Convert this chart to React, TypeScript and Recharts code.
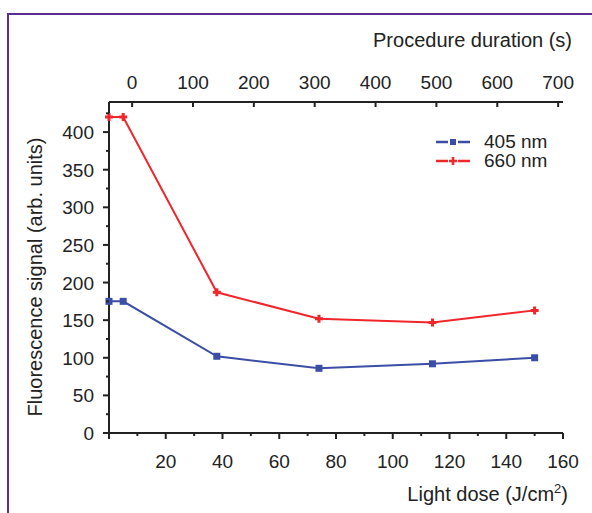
import React from "react";
import { LineChart, Line, XAxis, YAxis } from "recharts";

// light dose (J/cm2) at each measurement
const doses = [0, 5, 38, 74, 114, 150];
const signal405 = [175, 175, 102, 86, 92, 100];
const signal660 = [420, 420, 187, 152, 147, 163];

const doseTicks = [0, 10, 20, 30, 40, 50, 60, 70, 80, 90, 100, 110, 120, 130, 140, 150, 160];
const timeTicks = [0, 100, 200, 300, 400, 500, 600, 700];
const signalTicks = [0, 25, 50, 75, 100, 125, 150, 175, 200, 225, 250, 275, 300, 325, 350, 375, 400, 425];

// top axis: procedure duration at dose 0 and per J/cm2
const TIME_AT_ZERO_DOSE = -38;
const SECONDS_PER_DOSE = 4.6625;
const timeTickDoses = timeTicks.map((s) => (s - TIME_AT_ZERO_DOSE) / SECONDS_PER_DOSE);

const data = doses.map((d, i) => ({ dose: d, nm405: signal405[i], nm660: signal660[i] }));

const BLUE = "#3b4ea6";
const RED = "#f0262b";
const INK = "#222";
const FONT = "'Liberation Sans', Arial, sans-serif";
const TICK_FS = 19;
const TITLE_FS = 20;

const BottomTick = (props: any) => {
  const { x, y, payload } = props;
  const v = payload.value;
  const major = v % 20 === 0;
  return (
    <g>
      <line x1={x} x2={x} y1={y} y2={y + (major ? 6 : 3)} stroke={INK} strokeWidth={2} />
      {major && v !== 0 && (
        <text x={x} y={y + 35} textAnchor="middle" fontSize={TICK_FS} fill={INK} fontFamily={FONT}>
          {v}
        </text>
      )}
    </g>
  );
};

const TopTick = (props: any) => {
  const { x, y, index } = props;
  return (
    <g>
      <line x1={x} x2={x} y1={y} y2={y + 5} stroke={INK} strokeWidth={2} />
      <text x={x} y={y - 13} textAnchor="middle" fontSize={TICK_FS} fill={INK} fontFamily={FONT}>
        {timeTicks[index]}
      </text>
    </g>
  );
};

const LeftTick = (props: any) => {
  const { x, y, payload } = props;
  const v = payload.value;
  const major = v % 50 === 0;
  return (
    <g>
      <line x1={x - (major ? 6 : 3)} x2={x} y1={y} y2={y} stroke={INK} strokeWidth={2} />
      {major && (
        <text x={x - 15} y={y + 7} textAnchor="end" fontSize={TICK_FS} fill={INK} fontFamily={FONT}>
          {v}
        </text>
      )}
    </g>
  );
};

const SquareDot = (props: any) => {
  const { cx, cy } = props;
  return <rect x={cx - 3.5} y={cy - 3.5} width={7} height={7} fill={BLUE} />;
};

const PlusDot = (props: any) => {
  const { cx, cy } = props;
  return (
    <path
      d={`M${cx - 4},${cy} L${cx + 4},${cy} M${cx},${cy - 4} L${cx},${cy + 4}`}
      stroke={RED}
      strokeWidth={3}
    />
  );
};

const legendRows = [
  { c: BLUE, t: "405 nm", sq: true },
  { c: RED, t: "660 nm", sq: false },
];

const LegendBox = () => (
  <div style={{ fontFamily: FONT, fontSize: 19, color: INK, lineHeight: "19px" }}>
    {legendRows.map((r) => (
      <div key={r.t} style={{ display: "flex", alignItems: "center", height: 19 }}>
        <svg width={40} height={12}>
          <line x1={2} x2={14} y1={6} y2={6} stroke={r.c} strokeWidth={2.5} />
          <line x1={24} x2={36} y1={6} y2={6} stroke={r.c} strokeWidth={2.5} />
          {r.sq ? (
            <rect x={16} y={3} width={6} height={6} fill={r.c} />
          ) : (
            <path d="M15,6 L23,6 M19,2 L19,10" stroke={r.c} strokeWidth={2.5} />
          )}
        </svg>
        <span style={{ marginLeft: 10 }}>{r.t}</span>
      </div>
    ))}
  </div>
);

export default function App() {
  return (
    <div
      style={{
        position: "absolute",
        left: 0,
        top: 0,
        width: 592,
        height: 513,
        overflow: "hidden",
        background: "#fff",
      }}
    >
      <div
        style={{
          position: "absolute",
          left: 7,
          top: 13,
          width: 620,
          height: 560,
          border: "2px solid #5b2f92",
        }}
      />
      <div
        style={{
          position: "absolute",
          right: 20,
          top: 29,
          fontFamily: FONT,
          fontSize: TITLE_FS,
          color: INK,
          whiteSpace: "nowrap",
        }}
      >
        Procedure duration (s)
      </div>
      <div
        style={{
          position: "absolute",
          right: 24,
          top: 481,
          fontFamily: FONT,
          fontSize: TITLE_FS,
          color: INK,
          whiteSpace: "nowrap",
        }}
      >
        Light dose (J/cm<sup style={{ fontSize: 13 }}>2</sup>)
      </div>
      <div style={{ position: "absolute", left: 434, top: 132 }}>
        <LegendBox />
      </div>
      <div style={{ position: "absolute", left: 0, top: 0 }}>
        <LineChart width={592} height={513} data={data} margin={{ top: 0, right: 29, bottom: 0, left: 0 }}>
          <XAxis
            xAxisId="dose"
            dataKey="dose"
            type="number"
            domain={[0, 160]}
            ticks={doseTicks}
            interval={0}
            height={80}
            tickSize={0}
            tickMargin={0}
            tickLine={false}
            axisLine={{ stroke: INK, strokeWidth: 2 }}
            tick={<BottomTick />}
          />
          <XAxis
            xAxisId="time"
            dataKey="dose"
            orientation="top"
            type="number"
            domain={[0, 160]}
            ticks={timeTickDoses}
            interval={0}
            height={102}
            tickSize={0}
            tickMargin={0}
            tickLine={false}
            axisLine={{ stroke: INK, strokeWidth: 2 }}
            tick={<TopTick />}
          />
          <YAxis
            type="number"
            domain={[0, 440]}
            ticks={signalTicks}
            interval={0}
            width={109}
            tickSize={0}
            tickMargin={0}
            tickLine={false}
            axisLine={{ stroke: INK, strokeWidth: 2 }}
            tick={<LeftTick />}
            label={{
              content: () => (
                <text
                  x={35}
                  y={277}
                  transform="rotate(-90, 35, 277)"
                  textAnchor="middle"
                  dominantBaseline="central"
                  fontSize={TITLE_FS}
                  fill={INK}
                  fontFamily={FONT}
                >
                  Fluorescence signal (arb. units)
                </text>
              ),
            }}
          />
          <Line
            xAxisId="time"
            dataKey="nm405"
            stroke="none"
            dot={false}
            activeDot={false}
            legendType="none"
            isAnimationActive={false}
          />
          <Line
            xAxisId="dose"
            dataKey="nm405"
            name="405 nm"
            stroke={BLUE}
            strokeWidth={2}
            dot={<SquareDot />}
            isAnimationActive={false}
          />
          <Line
            xAxisId="dose"
            dataKey="nm660"
            name="660 nm"
            stroke={RED}
            strokeWidth={2}
            dot={<PlusDot />}
            isAnimationActive={false}
          />
        </LineChart>
      </div>
    </div>
  );
}
